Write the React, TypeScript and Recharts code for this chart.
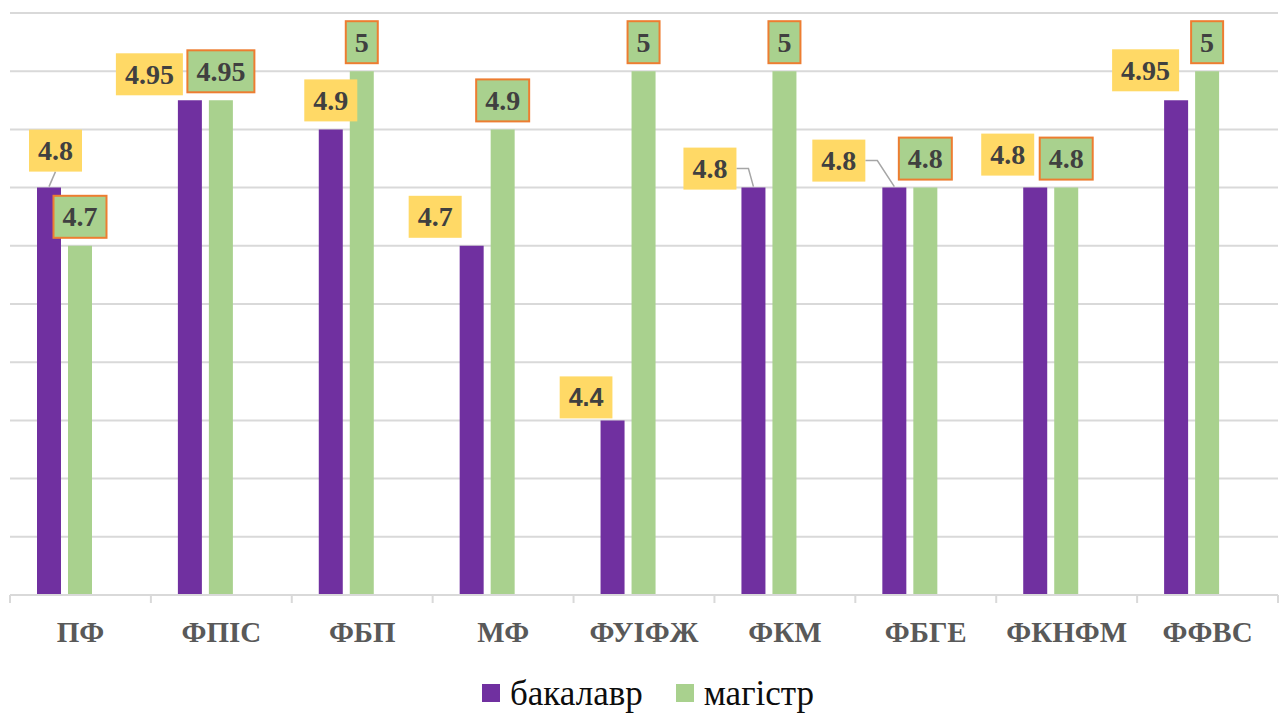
import { BarChart, Bar, XAxis, YAxis, CartesianGrid, Legend, LabelList } from "recharts"

const FACULTIES = ["ПФ", "ФПІС", "ФБП", "МФ", "ФУІФЖ", "ФКМ", "ФБГЕ", "ФКНФМ", "ФФВС"]
const BACHELOR = [4.8, 4.95, 4.9, 4.7, 4.4, 4.8, 4.8, 4.8, 4.95]
const MASTER = [4.7, 4.95, 5, 4.9, 5, 5, 4.8, 4.8, 5]
const Y_TICKS = [4.1, 4.2, 4.3, 4.4, 4.5, 4.6, 4.7, 4.8, 4.9, 5, 5.1]

const data = FACULTIES.map((name, i) => ({
  name,
  bachelor: BACHELOR[i],
  master: MASTER[i],
}))

// where Excel moved the bachelor labels (relative to "centered above the bar")
const BACH_LABEL_POS: { dx: number; dy: number; leader?: "down" | "side"; sans?: boolean }[] = [
  { dx: 6.5, dy: -8, leader: "down" },
  { dx: -40.5, dy: 3 },
  { dx: 0, dy: 0 },
  { dx: -36.5, dy: 0 },
  { dx: -26.5, dy: 6, sans: true },
  { dx: -43.5, dy: 10, leader: "side" },
  { dx: -55.5, dy: 2, leader: "side" },
  { dx: -27.5, dy: -4 },
  { dx: -30.5, dy: -1 },
]

const PURPLE = "#7030A0"
const GREEN = "#A9D18E"
const GRID = "#D9D9D9"
const SERIF = "'Liberation Serif', 'Times New Roman', serif"

function textWidth(text: string, size: number, sans: boolean) {
  let w = 0
  for (const c of text) {
    if (c === ".") w += sans ? 0.278 : 0.25
    else w += sans ? 0.556 : 0.5
  }
  return w * size
}

function makeLabel(kind: "bach" | "mast") {
  return (props: any) => {
    const x = Number(props.x)
    const y = Number(props.y)
    const width = Number(props.width)
    const index = props.index ?? 0
    const pos = kind === "bach" ? BACH_LABEL_POS[index] : { dx: 0, dy: 0 }
    const text = String(props.value)
    const sans = !!(pos as any).sans
    const fontSize = sans ? 25 : 28
    const w = textWidth(text, fontSize, sans) + 18
    const h = 42
    const cx = x + width / 2
    const bx = cx - w / 2 + pos.dx
    const by = y - 8 - h + pos.dy
    const leader = (pos as any).leader
    return (
      <g>
        {leader === "down" && (
          <line x1={bx + w / 2} y1={by + h} x2={cx} y2={y - 1} stroke="#A6A6A6" strokeWidth={1.5} />
        )}
        {leader === "side" && (
          <polyline
            points={`${bx + w},${by + h / 2} ${bx + w + 12},${by + h / 2} ${cx},${y - 1}`}
            fill="none"
            stroke="#A6A6A6"
            strokeWidth={1.5}
          />
        )}
        <rect
          x={bx}
          y={by}
          width={w}
          height={h}
          fill={kind === "bach" ? "#FFD966" : GREEN}
          stroke={kind === "bach" ? "none" : "#ED7D31"}
          strokeWidth={2}
        />
        <text
          x={bx + w / 2}
          y={by + h / 2 + (sans ? 9 : 9.5)}
          textAnchor="middle"
          style={{ fontFamily: sans ? "'Liberation Sans', Arial, sans-serif" : SERIF }}
          fontWeight="bold"
          fontSize={fontSize}
          fill="#404040"
        >
          {text}
        </text>
      </g>
    )
  }
}

function FacultyTick(props: any) {
  const { x, y, payload, index, visibleTicksCount } = props
  const half = payload?.offset || 70.4
  const last = index === (visibleTicksCount ?? FACULTIES.length) - 1
  return (
    <g>
      <line x1={x - half} x2={x - half} y1={y} y2={y + 8} stroke={GRID} strokeWidth={2} />
      {last && <line x1={x + half} x2={x + half} y1={y} y2={y + 8} stroke={GRID} strokeWidth={2} />}
      <text
        x={x}
        y={y + 47}
        textAnchor="middle"
        style={{ fontFamily: SERIF }}
        fontWeight="bold"
        fontSize={29}
        fill="#595959"
      >
        {payload.value}
      </text>
    </g>
  )
}

function renderLegend(props: any) {
  const items = (props.payload || []).filter((p: any) => p.type !== "none")
  return (
    <div
      style={{
        display: "flex",
        justifyContent: "center",
        alignItems: "center",
        height: 40,
        gap: 33,
        fontFamily: SERIF,
        fontSize: 35,
        color: "#0d0d0d",
        paddingLeft: 8,
      }}
    >
      {items.map((p: any) => (
        <span key={p.value} style={{ display: "flex", alignItems: "center", lineHeight: 1 }}>
          <span style={{ width: 18, height: 18, background: p.color, marginRight: 10, display: "inline-block" }} />
          {p.value}
        </span>
      ))}
    </div>
  )
}

export default function App() {
  return (
    <div style={{ width: 1287, height: 713, background: "#fff", fontFamily: SERIF }}>
      <style>{"body{margin:0}"}</style>
      <BarChart
        width={1287}
        height={713}
        data={data}
        margin={{ top: 13, right: 9, left: 10, bottom: 0 }}
        barSize={24}
        barGap={7}
      >
        <CartesianGrid vertical={false} stroke={GRID} strokeWidth={2} />
        <XAxis
          dataKey="name"
          height={78}
          interval={0}
          tickLine={false}
          tickSize={0}
          tickMargin={0}
          axisLine={{ stroke: GRID, strokeWidth: 2 }}
          tick={<FacultyTick />}
        />
        <YAxis hide domain={[4.1, 5.1]} ticks={Y_TICKS} />
        <Legend verticalAlign="bottom" height={40} content={renderLegend} />
        <Bar dataKey="bachelor" name="бакалавр" fill={PURPLE} isAnimationActive={false}>
          <LabelList dataKey="bachelor" content={makeLabel("bach")} />
        </Bar>
        <Bar dataKey="master" name="магістр" fill={GREEN} isAnimationActive={false}>
          <LabelList dataKey="master" content={makeLabel("mast")} />
        </Bar>
        <Bar dataKey="empty" name="" fill="none" legendType="none" isAnimationActive={false} />
      </BarChart>
    </div>
  )
}
